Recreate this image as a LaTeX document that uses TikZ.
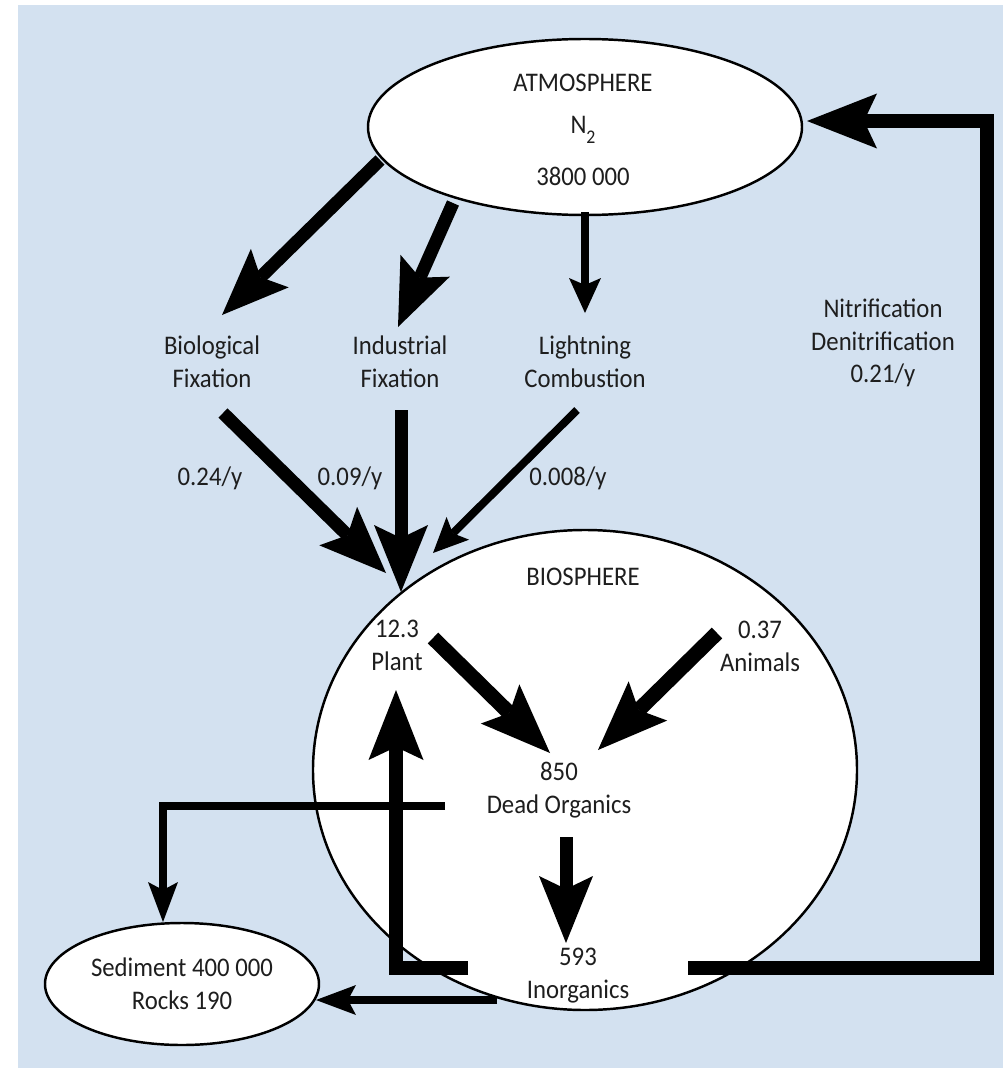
\documentclass[tikz,border=0pt]{standalone}
\usepackage{fontspec}
\setmainfont{Carlito}[FakeStretch=0.92]
\usetikzlibrary{arrows.meta,shapes.geometric}
\definecolor{bgblue}{RGB}{211,225,240}
\definecolor{ink}{RGB}{30,30,30}
\begin{document}
\begin{tikzpicture}[x=0.2mm,y=-0.2mm,
  lbl/.style={text=ink, font=\fontsize{15.3}{18.7}\selectfont, align=center, inner sep=0pt},
  pool/.style={draw=black, line width=1.4pt, fill=white, ellipse, inner sep=0pt},
  flowXL/.style={line width=8.5pt, line join=miter, -{Stealth[length=14mm,width=11mm,inset=2.6mm,line width=0pt]}},
  flowL/.style={line width=7.4pt, line join=miter, -{Stealth[length=13.4mm,width=10.8mm,inset=2.6mm,line width=0pt]}},
  flowS/.style={line width=4.5pt, -{Stealth[length=7mm,width=6.4mm,inset=1.4mm,line width=0pt]}},
  flowT/.style={line width=4pt, line join=miter, -{Stealth[length=8mm,width=6mm,inset=1.6mm,line width=0pt]}}
]
% background
\useasboundingbox (0,0) rectangle (1003,1068);
\fill[white] (0,0) rectangle (1003,1068);
\fill[bgblue] (18,5) rectangle (1003,1068);

% pools
\node[pool, minimum width=108.8mm, minimum height=96mm] (bio) at (585,770) {};
\node[pool, minimum width=86.8mm, minimum height=35.2mm] (atm) at (585,127) {};
\node[pool, minimum width=54.8mm, minimum height=24.4mm] (sed) at (182,984) {};

% texts
\node[lbl] (atmT) at (583,83) {ATMOSPHERE};
\node[lbl] (atmN) at (583,130) {N\raisebox{-0.35em}{\fontsize{11}{11}\selectfont 2}};
\node[lbl] (atmV) at (583,176) {3800 000};
\node[lbl] (bfix) at (212,362) {Biological\\Fixation};
\node[lbl] (ifix) at (400,362) {Industrial\\Fixation};
\node[lbl] (lcomb) at (585,362) {Lightning\\Combustion};
\node[lbl] (r1) at (210,478) {0.24/y};
\node[lbl] (r2) at (350,478) {0.09/y};
\node[lbl] (r3) at (568,478) {0.008/y};
\node[lbl] (nit) at (883,343) {Nitrification\\Denitrification\\0.21/y};
\node[lbl] (bioT) at (583,577) {BIOSPHERE};
\node[lbl] (plant) at (397,645) {12.3\\Plant};
\node[lbl] (anim) at (760,646) {0.37\\Animals};
\node[lbl] (dead) at (559,790) {850\\Dead Organics};
\node[lbl] (inorg) at (578,976) {593\\Inorganics};
\node[lbl] (sedT) at (182,984) {Sediment 400 000\\Rocks 190};

% connector end points
\coordinate (a1s) at (380,160);  \coordinate (a1e) at (222,315);
\coordinate (a2s) at (453,203);  \coordinate (a2e) at (398,327);
\coordinate (a3s) at (585,212);  \coordinate (a3e) at (585,313);
\coordinate (b1s) at (223,413);  \coordinate (b1e) at (386,573);
\coordinate (b2s) at (401,410);  \coordinate (b2e) at (401,592);
\coordinate (b3s) at (577,410);  \coordinate (b3e) at (433,553);
\coordinate (p1s) at (433,638);  \coordinate (p1e) at (550,753);
\coordinate (p2s) at (717,633);  \coordinate (p2e) at (598,750);
\coordinate (d1s) at (566,837);  \coordinate (d1e) at (566,943);
\coordinate (i1s) at (468,968);  \coordinate (i1e) at (396,690);
\coordinate (i2s) at (688,968);  \coordinate (i2c) at (987,968); \coordinate (i2d) at (987,121); \coordinate (i2e) at (807,121);
\coordinate (s1s) at (445,806);  \coordinate (s1e) at (163,922);
\coordinate (s2s) at (497,1000); \coordinate (s2e) at (316,1000);

% connectors
\draw[flowL] (a1s) -- (a1e);
\draw[flowL] (a2s) -- (a2e);
\draw[flowS] (a3s) -- (a3e);
\draw[flowL] (b1s) -- (b1e);
\draw[flowL] (b2s) -- (b2e);
\draw[flowS] (b3s) -- (b3e);
\draw[flowXL] (p1s) -- (p1e);
\draw[flowXL] (p2s) -- (p2e);
\draw[flowL] (d1s) -- (d1e);
\draw[flowT] (s1s) -| (s1e);
\draw[flowXL] (i1s) -| (i1e);
\draw[flowXL] (i2s) -- (i2c) -- (i2d) -- (i2e);
\draw[flowT] (s2s) -- (s2e);
\end{tikzpicture}
\end{document}
